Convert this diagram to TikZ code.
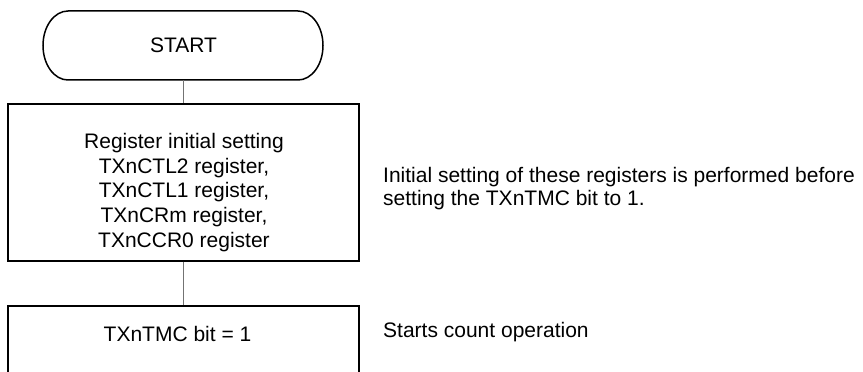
\documentclass[tikz,border=0pt]{standalone}
\usepackage{fontspec}
\setmainfont{Liberation Sans}
\begin{document}
\begin{tikzpicture}[x=1pt,y=1pt,
  outline/.style={draw=black,line width=1.5pt},
  conn/.style={draw=black!55,line width=1.2pt},
  txt/.style={inner sep=0pt,font=\fontsize{21pt}{24.75pt}\selectfont},
  boxnode/.style={outline,inner sep=0pt,minimum width=351pt}]
\clip (0,0) rectangle (863,372);
% START terminal
\node[txt] (start) at (183.5,326.5) {START};
\draw[outline] (68,361) -- (298,361)
  arc[start angle=90,end angle=-90,x radius=25,y radius=34.5]
  -- (68,292)
  arc[start angle=270,end angle=90,x radius=25,y radius=34.5] -- cycle;
\coordinate (startbot) at (183.5,292);
% Box 1
\node[boxnode,minimum height=157pt] (box1) at (183.5,189.5) {};
\node[txt,align=center,anchor=north] (box1txt) at (184,239)
  {Register initial setting\\TXnCTL2 register,\\TXnCTL1 register,\\TXnCRm register,\\TXnCCR0 register};
% Box 2 (cut at the bottom)
\node[boxnode,minimum height=100pt] (box2) at (183.5,16) {};
\node[txt,anchor=base] (box2txt) at (177.5,30) {TXnTMC bit = 1};
% connectors
\draw[conn] (startbot) -- (box1.north);
\draw[conn] (box1.south) -- (box2.north);
% annotations
\node[txt,align=left,anchor=north west,font=\fontsize{21pt}{23pt}\selectfont] (note1) at (383,205)
  {Initial setting of these registers is performed before\\setting the TXnTMC bit to 1.};
\node[txt,anchor=base west] (note2) at (383,34) {Starts count operation};
\end{tikzpicture}
\end{document}
